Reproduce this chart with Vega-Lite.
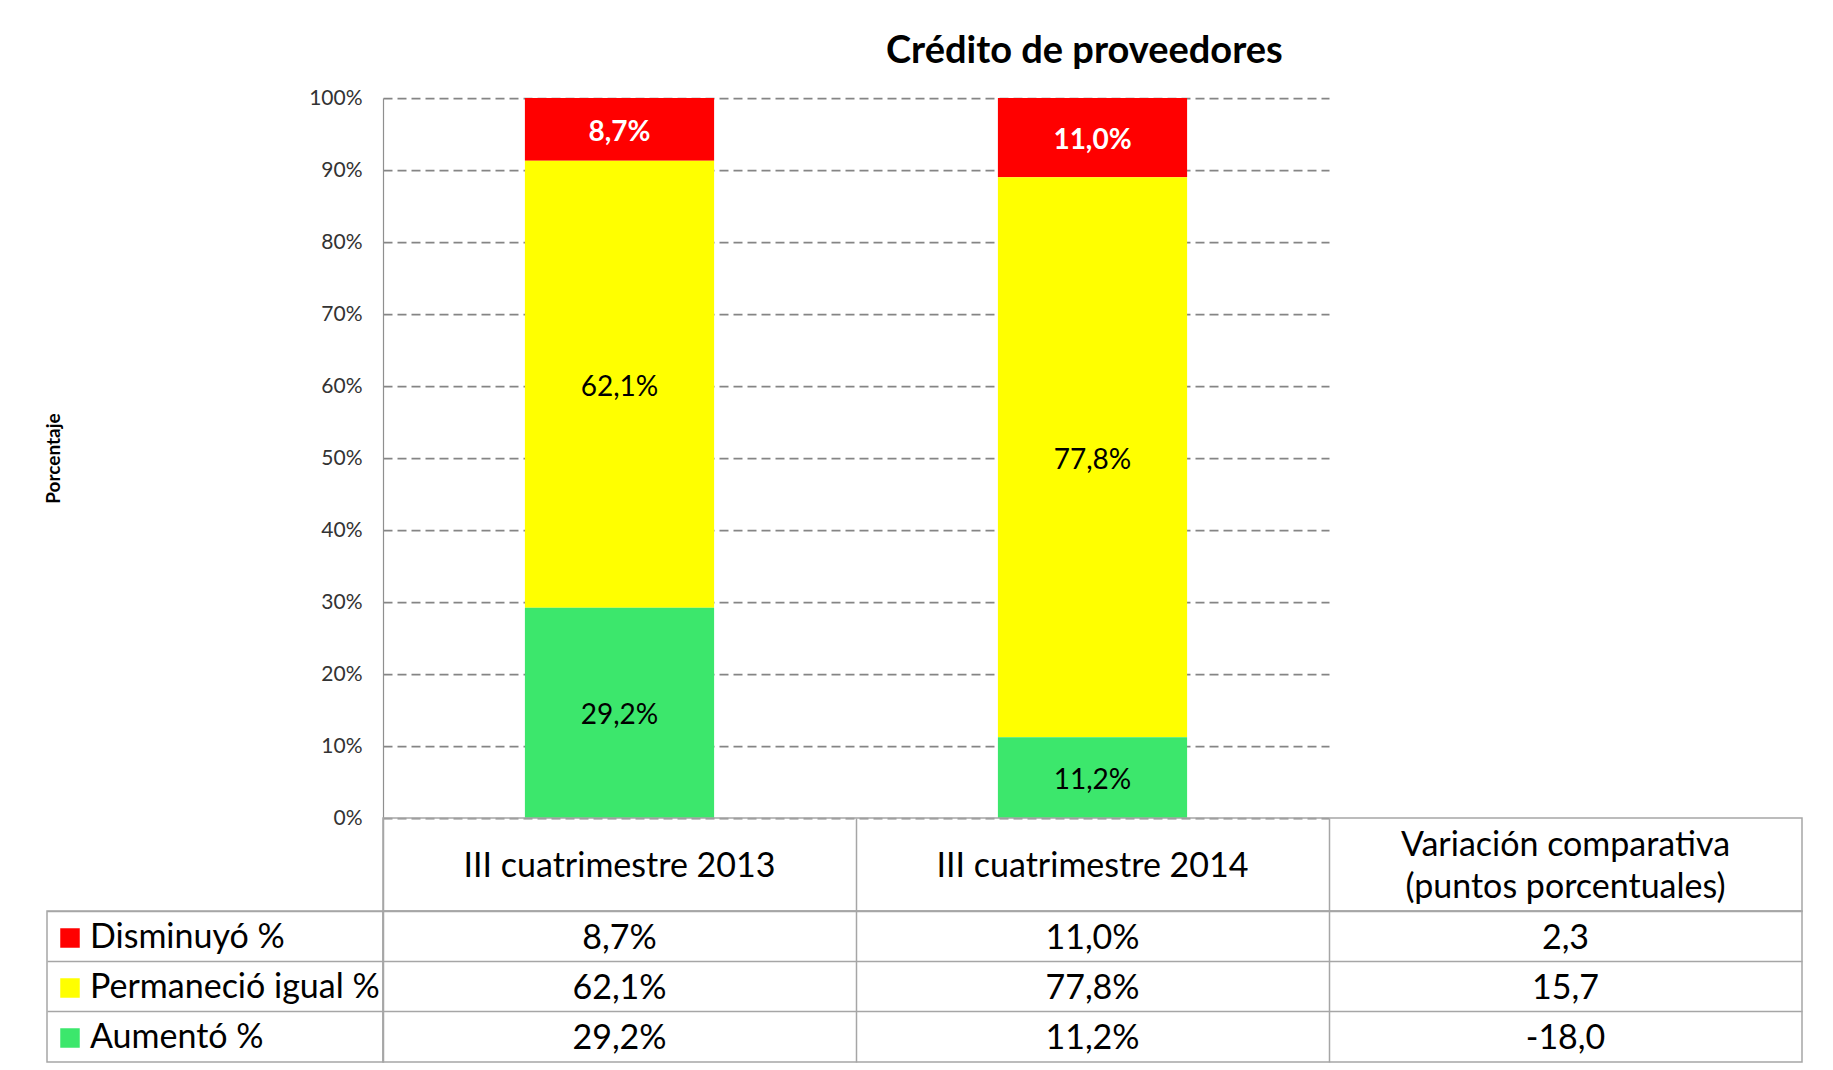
{
  "$schema": "https://vega.github.io/schema/vega-lite/v6.json",
  "padding": {"left": 44, "top": 33, "right": 5, "bottom": 2},
  "background": "white",
  "datasets": {
    "tabla": [
      {"columna": "III cuatrimestre 2013", "categoria": "Disminuyó %", "orden": 3, "valor": 0.087},
      {"columna": "III cuatrimestre 2013", "categoria": "Permaneció igual %", "orden": 2, "valor": 0.621},
      {"columna": "III cuatrimestre 2013", "categoria": "Aumentó %", "orden": 1, "valor": 0.292},
      {"columna": "III cuatrimestre 2014", "categoria": "Disminuyó %", "orden": 3, "valor": 0.110},
      {"columna": "III cuatrimestre 2014", "categoria": "Permaneció igual %", "orden": 2, "valor": 0.778},
      {"columna": "III cuatrimestre 2014", "categoria": "Aumentó %", "orden": 1, "valor": 0.112},
      {"columna": "Variación comparativa (puntos porcentuales)", "categoria": "Disminuyó %", "orden": 3, "valor": 2.3},
      {"columna": "Variación comparativa (puntos porcentuales)", "categoria": "Permaneció igual %", "orden": 2, "valor": 15.7},
      {"columna": "Variación comparativa (puntos porcentuales)", "categoria": "Aumentó %", "orden": 1, "valor": -18.0}
    ],
    "columnas": [
      {"columna": "III cuatrimestre 2013", "encabezado": "III cuatrimestre 2013"},
      {"columna": "III cuatrimestre 2014", "encabezado": "III cuatrimestre 2014"},
      {"columna": "Variación comparativa (puntos porcentuales)", "encabezado": "Variación comparativa\n(puntos porcentuales)"}
    ]
  },
  "title": {
    "text": "Crédito de proveedores",
    "font": "Lato",
    "fontSize": 38,
    "fontWeight": "bold",
    "color": "#000000",
    "anchor": "middle",
    "frame": "bounds",
    "dx": 161,
    "offset": 16
  },
  "columns": 2,
  "spacing": 0,
  "bounds": "flush",
  "align": "each",
  "resolve": {"scale": {"color": "independent"}, "legend": {"color": "independent"}},
  "concat": [
    {
      "width": 336,
      "height": 720,
      "data": {"values": []},
      "mark": {"type": "text"},
      "encoding": {},
      "view": {"stroke": null}
    },
    {
      "width": 946,
      "height": 720,
      "data": {"name": "tabla"},
      "transform": [{"filter": {"field": "columna", "oneOf": ["III cuatrimestre 2013", "III cuatrimestre 2014"]}}],
      "view": {"stroke": null},
      "resolve": {"scale": {"color": "independent"}, "legend": {"color": "independent"}},
      "layer": [
        {
          "mark": {"type": "bar"},
          "encoding": {
            "x": {"field": "columna", "type": "nominal", "scale": {"domain": ["III cuatrimestre 2013", "III cuatrimestre 2014"], "paddingInner": 0.6, "paddingOuter": 0.3}, "axis": null},
            "y": {
              "field": "valor", "type": "quantitative", "stack": "zero",
              "scale": {"domain": [0, 1], "nice": false},
              "axis": {
                "values": [0, 0.1, 0.2, 0.3, 0.4, 0.5, 0.6, 0.7, 0.8, 0.9, 1],
                "format": "%",
                "grid": true, "gridDash": [9, 5], "gridColor": "#858585", "gridWidth": 1.75,
                "domain": true, "domainColor": "#8f8f8f", "domainWidth": 1.2,
                "ticks": false,
                "labelPadding": 21, "labelFont": "Lato", "labelFontSize": 21, "labelColor": "#333333",
                "title": "Porcentaje", "titleFont": "Lato", "titleFontSize": 19, "titleFontWeight": "bold", "titleColor": "#000000",
                "titleX": -330, "titleY": 360, "titleAngle": -90, "titleAlign": "center", "titleBaseline": "middle"
              }
            },
            "order": {"field": "orden", "type": "quantitative", "sort": "ascending"},
            "color": {
              "field": "categoria", "type": "nominal",
              "scale": {"domain": ["Disminuyó %", "Permaneció igual %", "Aumentó %"], "range": ["#ff0000", "#ffff00", "#3ce76c"]},
              "legend": null
            }
          }
        },
        {
          "mark": {"type": "text", "font": "Lato", "fontSize": 28, "baseline": "middle", "dy": 3.5, "fontWeight": {"expr": "datum.categoria == 'Disminuyó %' ? 'bold' : 'normal'"}},
          "encoding": {
            "x": {"field": "columna", "type": "nominal", "scale": {"domain": ["III cuatrimestre 2013", "III cuatrimestre 2014"], "paddingInner": 0.6, "paddingOuter": 0.3}, "axis": null},
            "y": {
              "field": "valor", "type": "quantitative", "stack": "zero", "bandPosition": 0.5,
              "scale": {"domain": [0, 1], "nice": false},
              "axis": {
                "values": [0, 0.1, 0.2, 0.3, 0.4, 0.5, 0.6, 0.7, 0.8, 0.9, 1],
                "format": "%",
                "grid": true, "gridDash": [9, 5], "gridColor": "#858585", "gridWidth": 1.75,
                "domain": true, "domainColor": "#8f8f8f", "domainWidth": 1.2,
                "ticks": false,
                "labelPadding": 21, "labelFont": "Lato", "labelFontSize": 21, "labelColor": "#333333",
                "title": "Porcentaje", "titleFont": "Lato", "titleFontSize": 19, "titleFontWeight": "bold", "titleColor": "#000000",
                "titleX": -330, "titleY": 360, "titleAngle": -90, "titleAlign": "center", "titleBaseline": "middle"
              }
            },
            "order": {"field": "orden", "type": "quantitative", "sort": "ascending"},
            "text": {"field": "valor", "type": "quantitative", "format": ".1%"},
            "color": {
              "field": "categoria", "type": "nominal",
              "scale": {"domain": ["Disminuyó %", "Permaneció igual %", "Aumentó %"], "range": ["#ffffff", "#000000", "#000000"]},
              "legend": null
            }
          }
        }
      ]
    },
    {
      "width": 336,
      "height": 93,
      "data": {"values": []},
      "mark": {"type": "text"},
      "encoding": {},
      "view": {"stroke": null}
    },
    {
      "width": 1419,
      "height": 93,
      "data": {"name": "columnas"},
      "view": {"stroke": "#a6a6a6", "strokeWidth": 1.5},
      "mark": {
        "type": "text", "font": "Lato", "fontSize": 34, "lineBreak": "\n", "lineHeight": 42, "baseline": "middle", "align": "center", "color": "#000000",
        "dy": {"expr": "indexof(datum.encabezado, '\\n') >= 0 ? -19 : 2"}
      },
      "encoding": {
        "x": {
          "field": "columna", "type": "nominal", "bandPosition": 0.5,
          "scale": {"type": "band", "domain": ["III cuatrimestre 2013", "III cuatrimestre 2014", "Variación comparativa (puntos porcentuales)"], "paddingInner": 0, "paddingOuter": 0},
          "axis": {"grid": true, "bandPosition": 0, "labels": false, "ticks": false, "domain": false, "title": null, "gridColor": "#a6a6a6", "gridWidth": 1.5}
        },
        "text": {"field": "encabezado", "type": "nominal"}
      }
    },
    {
      "width": 336,
      "height": 151,
      "data": {"name": "tabla"},
      "transform": [{"filter": {"field": "columna", "equal": "III cuatrimestre 2013"}}],
      "view": {"stroke": "#a6a6a6", "strokeWidth": 1.5},
      "mark": {"type": "text", "text": ""},
      "encoding": {
        "y": {
          "field": "categoria", "type": "nominal", "bandPosition": 0.5,
          "scale": {"type": "band", "domain": ["Disminuyó %", "Permaneció igual %", "Aumentó %"], "paddingInner": 0, "paddingOuter": 0},
          "axis": {"grid": true, "bandPosition": 0, "labels": false, "ticks": false, "domain": false, "title": null, "gridColor": "#a6a6a6", "gridWidth": 1.5}
        },
        "color": {
          "field": "categoria", "type": "nominal",
          "scale": {"domain": ["Disminuyó %", "Permaneció igual %", "Aumentó %"], "range": ["#ff0000", "#ffff00", "#3ce76c"]},
          "legend": {
            "orient": "none", "legendX": 6, "legendY": 10, "padding": 0, "title": null,
            "symbolType": "square", "symbolSize": 380, "symbolStrokeWidth": 0, "symbolOpacity": 1,
            "labelFont": "Lato", "labelFontSize": 34, "labelColor": "#000000", "labelOffset": 3, "labelLimit": 600,
            "rowPadding": 16
          }
        }
      }
    },
    {
      "width": 1419,
      "height": 151,
      "data": {"name": "tabla"},
      "view": {"stroke": "#a6a6a6", "strokeWidth": 1.5},
      "encoding": {
        "x": {
          "field": "columna", "type": "nominal", "bandPosition": 0.5,
          "scale": {"type": "band", "domain": ["III cuatrimestre 2013", "III cuatrimestre 2014", "Variación comparativa (puntos porcentuales)"], "paddingInner": 0, "paddingOuter": 0},
          "axis": {"grid": true, "bandPosition": 0, "labels": false, "ticks": false, "domain": false, "title": null, "gridColor": "#a6a6a6", "gridWidth": 1.5}
        },
        "y": {
          "field": "categoria", "type": "nominal", "bandPosition": 0.5,
          "scale": {"type": "band", "domain": ["Disminuyó %", "Permaneció igual %", "Aumentó %"], "paddingInner": 0, "paddingOuter": 0},
          "axis": {"grid": true, "bandPosition": 0, "labels": false, "ticks": false, "domain": false, "title": null, "gridColor": "#a6a6a6", "gridWidth": 1.5}
        }
      },
      "layer": [
        {
          "transform": [{"filter": {"field": "columna", "oneOf": ["III cuatrimestre 2013", "III cuatrimestre 2014"]}}],
          "mark": {"type": "text", "font": "Lato", "fontSize": 34, "baseline": "middle", "align": "center", "color": "#000000", "dy": 2.5},
          "encoding": {"text": {"field": "valor", "type": "quantitative", "format": ".1%"}}
        },
        {
          "transform": [{"filter": {"field": "columna", "equal": "Variación comparativa (puntos porcentuales)"}}],
          "mark": {"type": "text", "font": "Lato", "fontSize": 34, "baseline": "middle", "align": "center", "color": "#000000", "dy": 2.5},
          "encoding": {"text": {"field": "valor", "type": "quantitative", "format": ".1f"}}
        }
      ]
    }
  ],
  "config": {
    "font": "Lato",
    "locale": {"number": {"decimal": ",", "thousands": ".", "grouping": [3], "currency": ["", " €"], "minus": "-"}},
    "view": {"stroke": null}
  }
}
